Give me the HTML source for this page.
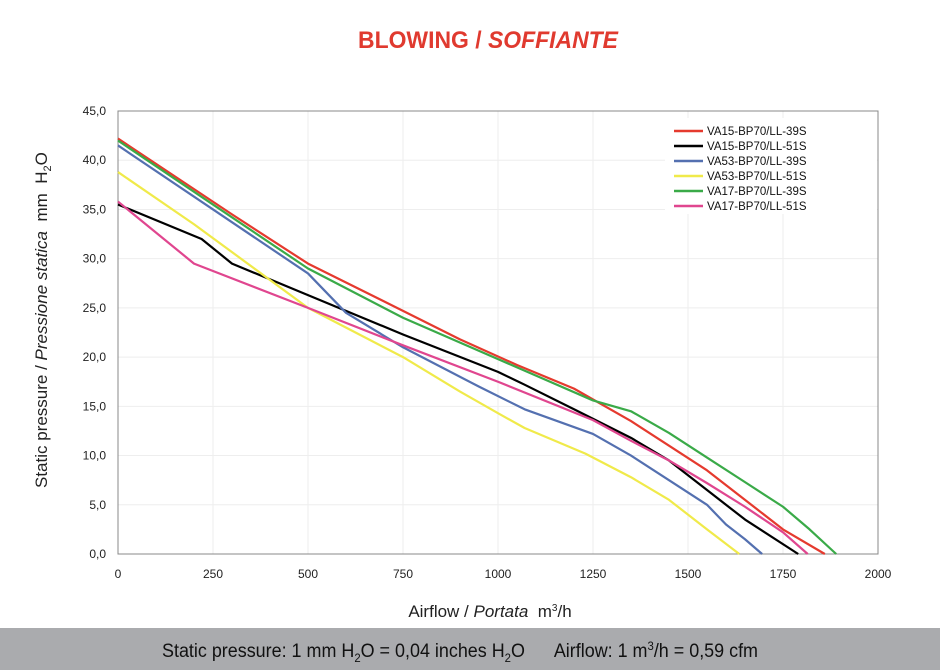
<!DOCTYPE html>
<html><head><meta charset="utf-8"><style>
body{margin:0;width:940px;height:670px;background:#fff;overflow:hidden;font-family:"Liberation Sans",sans-serif}
svg{position:absolute;left:0;top:0}
text{white-space:pre}
</style></head><body>
<svg width="940" height="670" xmlns="http://www.w3.org/2000/svg" font-family="Liberation Sans, sans-serif">
<text x="358" y="48" textLength="260" lengthAdjust="spacingAndGlyphs" font-size="24" font-weight="bold" fill="#e03a2f">BLOWING / <tspan font-style="italic">SOFFIANTE</tspan></text>
<g id="grid" stroke="#eeeeee" stroke-width="1"></g>
<rect x="118" y="111" width="760" height="443" fill="none" stroke="#888" stroke-width="1"/>
<g id="ylab" font-size="12" fill="#222" text-anchor="end"></g>
<g id="xlab" font-size="12" fill="#222" text-anchor="middle"></g>
<g id="series" fill="none" stroke-width="2.2" stroke-linejoin="round"></g>
<rect x="665" y="118" width="212" height="96" fill="#fff"/>
<g font-size="11.5" fill="#111">
<line x1="674" x2="703" y1="131" y2="131" stroke="#e53a2e" stroke-width="2.5"/><text x="707" y="135">VA15-BP70/LL-39S</text>
<line x1="674" x2="703" y1="146" y2="146" stroke="#000" stroke-width="2.5"/><text x="707" y="150">VA15-BP70/LL-51S</text>
<line x1="674" x2="703" y1="161" y2="161" stroke="#5470b0" stroke-width="2.5"/><text x="707" y="165">VA53-BP70/LL-39S</text>
<line x1="674" x2="703" y1="176" y2="176" stroke="#f0ea4a" stroke-width="2.5"/><text x="707" y="180">VA53-BP70/LL-51S</text>
<line x1="674" x2="703" y1="191" y2="191" stroke="#3aaa48" stroke-width="2.5"/><text x="707" y="195">VA17-BP70/LL-39S</text>
<line x1="674" x2="703" y1="206" y2="206" stroke="#e0468f" stroke-width="2.5"/><text x="707" y="210">VA17-BP70/LL-51S</text>
</g>
<text transform="translate(47,488) rotate(-90)" font-size="17" fill="#222">Static pressure / <tspan font-style="italic">Pressione statica</tspan>  mm  H<tspan font-size="11" dy="4">2</tspan><tspan dy="-4">O</tspan></text>
<text x="490" y="617" text-anchor="middle" font-size="17" fill="#222">Airflow / <tspan font-style="italic">Portata</tspan>  m<tspan font-size="10" dy="-6">3</tspan><tspan dy="6">/h</tspan></text>
<rect x="0" y="628" width="940" height="42" fill="#aaabae"/>
<text x="162" y="657" textLength="596" lengthAdjust="spacingAndGlyphs" font-size="19" fill="#111">Static pressure: 1 mm H<tspan font-size="12" dy="5">2</tspan><tspan dy="-5">O = 0,04 inches H</tspan><tspan font-size="12" dy="5">2</tspan><tspan dy="-5">O      Airflow: 1 m</tspan><tspan font-size="12" dy="-7">3</tspan><tspan dy="7">/h = 0,59 cfm</tspan></text>
</svg>
<script>
var NS="http://www.w3.org/2000/svg";
function X(v){return 118+v*0.38}function Y(p){return 554-p*9.844}
function el(t,a,par){var e=document.createElementNS(NS,t);for(var k in a)e.setAttribute(k,a[k]);document.getElementById(par).appendChild(e);return e}
for(var i=0;i<=9;i++){var y=Y(i*5);if(i>0&&i<9)el("line",{x1:118,x2:878,y1:y,y2:y},"grid");
var t=el("text",{x:106,y:y+4},"ylab");t.textContent=(i*5).toFixed(1).replace(".",",");}
for(var j=0;j<=8;j++){var x=X(j*250);if(j>0&&j<8)el("line",{x1:x,x2:x,y1:111,y2:554},"grid");
var t=el("text",{x:x,y:578},"xlab");t.textContent=j*250;}
var S=[
["#e53a2e",[[0,42.2],[300,34.5],[500,29.5],[750,24.7],[900,21.8],[1050,19.2],[1200,16.8],[1350,13.5],[1450,11],[1550,8.5],[1650,5.5],[1750,2.5],[1860,0]]],
["#3aaa48",[[0,42],[250,35.5],[500,29],[750,24],[1000,19.8],[1250,15.6],[1350,14.5],[1450,12.3],[1550,9.8],[1650,7.3],[1750,4.8],[1820,2.5],[1890,0]]],
["#000",[[0,35.5],[220,32],[300,29.5],[500,26.3],[750,22.3],[1000,18.5],[1070,17.2],[1200,14.7],[1350,11.8],[1450,9.5],[1550,6.5],[1650,3.5],[1790,0]]],
["#5470b0",[[0,41.5],[250,35],[500,28.5],[600,24.5],[750,21],[950,17],[1070,14.7],[1250,12.2],[1350,10],[1450,7.5],[1550,5],[1600,3],[1650,1.5],[1695,0]]],
["#f0ea4a",[[0,38.8],[200,33.5],[500,25],[750,20],[900,16.5],[1000,14.3],[1070,12.8],[1230,10.2],[1350,7.8],[1450,5.5],[1550,2.5],[1635,0]]],
["#e0468f",[[0,35.8],[200,29.5],[500,25],[750,21.2],[1000,17.5],[1250,13.6],[1350,11.5],[1450,9.5],[1550,7.2],[1650,4.8],[1750,2.2],[1815,0]]]];
S.forEach(function(s){el("polyline",{stroke:s[0],points:s[1].map(function(p){return X(p[0])+","+Y(p[1])}).join(" ")},"series")});
</script>
</body></html>
